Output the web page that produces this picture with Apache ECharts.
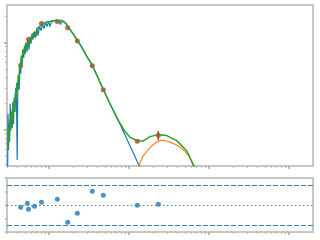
<!DOCTYPE html>
<html><head><meta charset="utf-8">
<script src="https://cdn.jsdelivr.net/npm/echarts@6/dist/echarts.min.js"></script>
<style>html,body{margin:0;padding:0;background:#fff}#c{width:320px;height:240px}</style>
</head><body><div id="c"></div>
<script>
// All positions in log10 units: wavelength in micron, flux in erg/s/cm^2
const photLogWave = [-0.354,-0.271,-0.256,-0.181,-0.094,0.104,0.234,0.354,0.541,0.679,1.104,1.366];
const photLogFlux = [-10.262,-10.023,-9.965,-9.908,-9.781,-9.758,-9.830,-9.980,-10.266,-10.543,-11.135,-11.066];
const photLogLo   = [-10.262,-10.023,-9.965,-9.908,-9.781,-9.758,-9.830,-9.980,-10.266,-10.543,-11.135,-11.120];
const photLogHi   = [-10.262,-10.023,-9.965,-9.908,-9.781,-9.758,-9.830,-9.980,-10.266,-10.543,-11.135,-11.016];
const residuals   = [-0.34,0.25,-0.64,-0.2,0.4,0.84,-2.56,-1.23,2.04,1.46,-0.04,0.1];

const starLogWave = [-0.5175,-0.5125,-0.506,-0.5,-0.4925,-0.485,-0.4775,-0.469,-0.46,-0.4525,-0.444,-0.435,-0.425,-0.415,-0.406,-0.3975,-0.39,-0.381,-0.3725,-0.3625,-0.3525,-0.344,-0.334,-0.325,-0.315,-0.306,-0.296,-0.2875,-0.275,-0.2625,-0.25,-0.2375,-0.225,-0.2125,-0.2,-0.1875,-0.169,-0.15,-0.1375,-0.119,-0.1,-0.081,-0.0625,-0.044,-0.025,-0.006,0.0125,0.031,0.056,0.075,0.1,0.125,0.144,0.1625,0.1875,0.2125,0.2375,0.2625,0.3,0.35,0.4125,0.475,0.5375,0.6125,0.675,0.7625,0.8625,0.95,1.025,1.129,1.175];
const starLogFlux = [-11.582,-10.820,-11.236,-10.935,-11.143,-10.704,-11.005,-10.797,-10.982,-10.681,-10.935,-10.635,-10.797,-10.520,-10.681,-11.351,-10.497,-10.427,-10.543,-10.266,-10.358,-10.150,-10.242,-10.081,-10.173,-10.035,-10.127,-10.012,-10.104,-9.965,-10.081,-9.931,-10.012,-9.896,-9.965,-9.873,-9.942,-9.827,-9.919,-9.815,-9.861,-9.792,-9.838,-9.769,-9.815,-9.758,-9.815,-9.758,-9.781,-9.746,-9.758,-9.746,-9.792,-9.746,-9.769,-9.781,-9.815,-9.850,-9.896,-9.965,-10.058,-10.162,-10.254,-10.404,-10.531,-10.704,-10.889,-11.062,-11.212,-11.420,-11.513];

const totalLogWave = [-0.5125,-0.505,-0.4975,-0.49,-0.4825,-0.475,-0.466,-0.4575,-0.449,-0.44,-0.431,-0.421,-0.4125,-0.4025,-0.394,-0.384,-0.375,-0.365,-0.355,-0.345,-0.335,-0.325,-0.315,-0.305,-0.294,-0.2825,-0.271,-0.26,-0.2475,-0.235,-0.2225,-0.209,-0.194,-0.1775,-0.1625,-0.144,-0.125,-0.106,-0.0875,-0.069,-0.05,-0.031,-0.0125,0.0125,0.0375,0.0625,0.0875,0.1125,0.1375,0.1625,0.1875,0.2125,0.2375,0.2625,0.3,0.35,0.4125,0.475,0.5375,0.6125,0.675,0.7625,0.8625,0.95,1.0125,1.096,1.179,1.2625,1.366,1.471,1.596,1.721,1.8125,1.8375];
const totalLogFlux = [-11.212,-10.982,-11.120,-10.889,-11.016,-10.820,-10.947,-10.762,-10.889,-10.681,-10.797,-10.577,-10.658,-10.462,-10.554,-10.370,-10.427,-10.242,-10.300,-10.150,-10.196,-10.081,-10.139,-10.046,-10.104,-10.012,-10.058,-9.977,-10.023,-9.942,-9.977,-9.908,-9.942,-9.873,-9.908,-9.838,-9.861,-9.804,-9.827,-9.781,-9.792,-9.763,-9.775,-9.758,-9.769,-9.746,-9.758,-9.746,-9.758,-9.746,-9.758,-9.781,-9.815,-9.850,-9.896,-9.965,-10.058,-10.162,-10.254,-10.404,-10.531,-10.704,-10.889,-11.024,-11.089,-11.128,-11.132,-11.082,-11.059,-11.070,-11.128,-11.244,-11.420,-11.490];

const dustLogWave = [1.1,1.129,1.1625,1.221,1.284,1.3375,1.4,1.471,1.525,1.596,1.659,1.721,1.7625,1.804,1.825];
const dustLogFlux = [-11.582,-11.420,-11.328,-11.255,-11.189,-11.149,-11.124,-11.132,-11.151,-11.178,-11.220,-11.274,-11.328,-11.420,-11.490];

// axis ticks (linear units, mapped to log10)
const xMajorTicks = [1,10,100,1000];
const xMinorTicks = [0.3,0.4,0.5,0.6,0.7,0.8,0.9,2,3,4,5,6,7,8,9,20,30,40,50,60,70,80,90,200,300,400,500,600,700,800,900,2000];
const yMajorTicks = [1e-11,1e-10];
const yMinorTicks = [4e-12,5e-12,6e-12,7e-12,8e-12,9e-12,2e-11,3e-11,4e-11,5e-11,6e-11,7e-11,8e-11,9e-11,2e-10];
const residTicks = [-4,-2,0,2,4];

const X_MIN = -0.525, X_MAX = 3.3, Y_MIN = -11.42, Y_MAX = -9.567;
const lg = v => Math.log10(v);
const zip = (a,b) => a.map((v,i)=>[v,b[i]]);

function xAx(grid, ticks, len, w, col){
  return {type:'value', gridIndex:grid, min:X_MIN, max:X_MAX, position:'bottom',
    axisLine:{show:false, onZero:false}, splitLine:{show:false}, axisLabel:{show:false},
    axisTick:{show:true, length:len, lineStyle:{color:col, width:w}, customValues:ticks}};
}
function yAx(grid, min, max, ticks, len, w, col){
  return {type:'value', gridIndex:grid, min:min, max:max, position:'left',
    axisLine:{show:false, onZero:false}, splitLine:{show:false}, axisLabel:{show:false},
    axisTick:{show:true, length:len, lineStyle:{color:col, width:w}, customValues:ticks}};
}

const chart = echarts.init(document.getElementById('c'), null, {renderer:'canvas'});
chart.setOption({
  animation:false,
  grid:[
    {left:7, top:5, width:306, height:161, show:true, borderColor:'#c6c6c6', borderWidth:2},
    {left:7, top:178, width:306, height:54, show:true, borderColor:'#c6c6c6', borderWidth:2}
  ],
  xAxis:[
    xAx(0, xMinorTicks.map(lg), 2, 1, '#b8b8b8'),
    xAx(0, xMajorTicks.map(lg), 3, 1.5, '#a8a8a8'),
    xAx(1, xMinorTicks.map(lg), 2, 1, '#b8b8b8'),
    xAx(1, xMajorTicks.map(lg), 3, 1.5, '#a8a8a8')
  ],
  yAxis:[
    yAx(0, Y_MIN, Y_MAX, yMinorTicks.map(lg), 2, 1, '#b8b8b8'),
    yAx(0, Y_MIN, Y_MAX, yMajorTicks.map(lg), 3, 1.5, '#a8a8a8'),
    yAx(1, -4, 4, residTicks, 2, 1.5, '#b0b0b0')
  ],
  series:[
    {type:'line', xAxisIndex:0, yAxisIndex:0, data:zip(starLogWave, starLogFlux), showSymbol:false,
      lineStyle:{color:'#1f77b4', width:1.2}},
    {type:'line', xAxisIndex:0, yAxisIndex:0, data:zip(dustLogWave, dustLogFlux), showSymbol:false, smooth:0.3,
      lineStyle:{color:'#ff7f0e', width:1.2}},
    {type:'line', xAxisIndex:0, yAxisIndex:0, data:zip(totalLogWave, totalLogFlux), showSymbol:false,
      lineStyle:{color:'#2ca02c', width:1.5}},
    {type:'custom', xAxisIndex:0, yAxisIndex:0,
      data:photLogWave.map((x,i)=>[x, photLogLo[i], photLogHi[i]]),
      renderItem:function(params, api){
        const a = api.coord([api.value(0), api.value(1)]);
        const b = api.coord([api.value(0), api.value(2)]);
        return {type:'line', shape:{x1:a[0], y1:a[1], x2:b[0], y2:b[1]},
          style:{stroke:'#d62728', lineWidth:1.5}};
      }},
    {type:'scatter', xAxisIndex:0, yAxisIndex:0, data:zip(photLogWave, photLogFlux), symbolSize:5,
      itemStyle:{color:'#d62728'}},
    {type:'scatter', xAxisIndex:2, yAxisIndex:2, data:zip(photLogWave, residuals), symbolSize:5,
      itemStyle:{color:'#1f77b4'},
      markLine:{silent:true, symbol:'none', label:{show:false},
        data:[
          {yAxis:3, lineStyle:{color:'#3f7bb2', width:1, type:[5,2]}},
          {yAxis:-3, lineStyle:{color:'#3f7bb2', width:1, type:[5,2]}},
          {yAxis:0, lineStyle:{color:'#3f7bb2', width:1, type:[1.5,2.5]}}
        ]}}
  ]
});
</script></body></html>
